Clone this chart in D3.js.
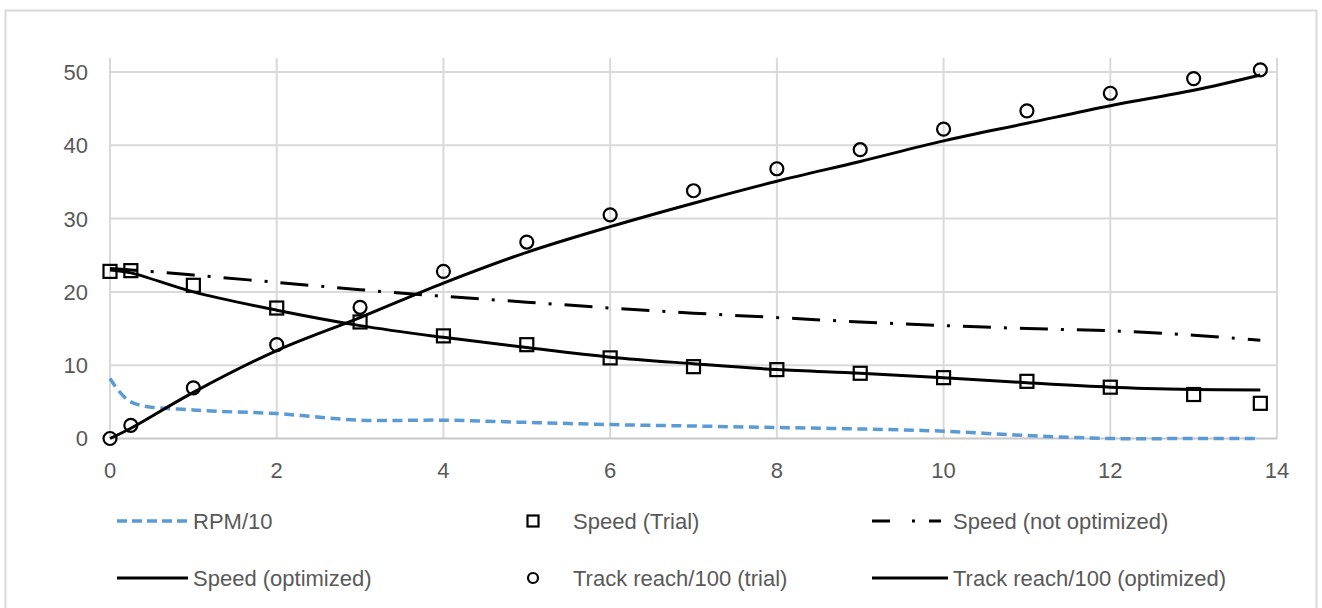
<!DOCTYPE html>
<html>
<head>
<meta charset="utf-8">
<script src="https://cdn.jsdelivr.net/npm/d3@7"></script>
<style>
  html, body { margin: 0; padding: 0; background: #ffffff; }
  svg { display: block; font-family: "Liberation Sans", Arial, sans-serif; }
</style>
</head>
<body>
<svg id="chart" width="1322" height="608"></svg>
<script>
// ---- Data ----
const xValues = [0, 0.25, 1, 2, 3, 4, 5, 6, 7, 8, 9, 10, 11, 12, 13, 13.8];
const rpm10 = [8.2, 5.0, 3.9, 3.4, 2.5, 2.5, 2.2, 1.9, 1.7, 1.5, 1.3, 1.0, 0.4, 0, 0, 0];
const speedTrial = [22.8, 22.9, 20.9, 17.8, 15.9, 14.0, 12.8, 11.0, 9.8, 9.4, 8.9, 8.3, 7.8, 7.0, 6.0, 4.8];
const speedNotOptimized = [23.2, 23.0, 22.3, 21.3, 20.3, 19.4, 18.6, 17.8, 17.1, 16.5, 15.9, 15.4, 15.0, 14.7, 14.1, 13.4];
const speedOptimized = [23.0, 22.6, 20.0, 17.5, 15.4, 13.8, 12.4, 11.1, 10.2, 9.4, 8.9, 8.3, 7.6, 7.0, 6.7, 6.6];
const trackTrial = [0, 1.8, 6.9, 12.8, 17.9, 22.8, 26.8, 30.5, 33.8, 36.8, 39.4, 42.2, 44.7, 47.1, 49.1, 50.3];
const trackOptimized = [0, 1.4, 6.3, 12.0, 16.5, 21.2, 25.4, 28.9, 32.1, 35.1, 37.8, 40.6, 43.0, 45.4, 47.5, 49.6];
const xTicks = [0, 2, 4, 6, 8, 10, 12, 14];
const yTicks = [0, 10, 20, 30, 40, 50];
const legendLabels = ["RPM/10", "Speed (Trial)", "Speed (not optimized)",
                      "Speed (optimized)", "Track reach/100 (trial)", "Track reach/100 (optimized)"];

// ---- Setup ----
const svg = d3.select("#chart");
const x = d3.scaleLinear().domain([0, 14]).range([110, 1277]);
const y = d3.scaleLinear().domain([0, 50]).range([438.5, 72]);
const textColor = "#595959";
const gridColor = "#d9d9d9";

// outer chart border
svg.append("rect")
  .attr("x", 5.5).attr("y", 10.5).attr("width", 1311).attr("height", 620)
  .attr("fill", "none").attr("stroke", "#d9d9d9").attr("stroke-width", 2);

// horizontal gridlines
svg.append("g").selectAll("line").data(yTicks.filter(d => d > 0)).join("line")
  .attr("x1", x(0)).attr("x2", x(14))
  .attr("y1", d => y(d)).attr("y2", d => y(d))
  .attr("stroke", gridColor).attr("stroke-width", 2);

// vertical gridlines (extend above top gridline like the reference)
const plotTop = y(50) - 14;
svg.append("g").selectAll("line").data(xTicks).join("line")
  .attr("x1", d => x(d)).attr("x2", d => x(d))
  .attr("y1", plotTop).attr("y2", y(0))
  .attr("stroke", gridColor).attr("stroke-width", 2);

// x axis line
svg.append("line")
  .attr("x1", x(0)).attr("x2", x(14)).attr("y1", y(0)).attr("y2", y(0))
  .attr("stroke", "#c8c8c8").attr("stroke-width", 2);

// y labels
svg.append("g").selectAll("text").data(yTicks).join("text")
  .attr("x", 88).attr("y", d => y(d))
  .attr("dy", "0.36em")
  .attr("text-anchor", "end")
  .attr("font-size", 22).attr("fill", textColor)
  .text(d => d);

// x labels
svg.append("g").selectAll("text").data(xTicks).join("text")
  .attr("x", d => x(d)).attr("y", 478)
  .attr("text-anchor", "middle")
  .attr("font-size", 22).attr("fill", textColor)
  .text(d => d);

// ---- Series ----
const pts = vals => xValues.map((xv, i) => [xv, vals[i]]);
const line = d3.line().x(d => x(d[0])).y(d => y(d[1])).curve(d3.curveCatmullRom.alpha(0.5));

const plot = svg.append("g");

plot.append("path").datum(pts(rpm10))
  .attr("d", line).attr("fill", "none")
  .attr("stroke", "#5b9bd5").attr("stroke-width", 3.5)
  .attr("stroke-dasharray", "10,5.5");

plot.append("path").datum(pts(speedNotOptimized))
  .attr("d", line).attr("fill", "none")
  .attr("stroke", "#000").attr("stroke-width", 3)
  .attr("stroke-dasharray", "28,13,3,13");

plot.append("path").datum(pts(speedOptimized))
  .attr("d", line).attr("fill", "none")
  .attr("stroke", "#000").attr("stroke-width", 3);

plot.append("path").datum(pts(trackOptimized))
  .attr("d", line).attr("fill", "none")
  .attr("stroke", "#000").attr("stroke-width", 3);

// square markers
const sq = 13;
plot.append("g").selectAll("rect").data(pts(speedTrial)).join("rect")
  .attr("x", d => x(d[0]) - sq / 2).attr("y", d => y(d[1]) - sq / 2)
  .attr("width", sq).attr("height", sq)
  .attr("fill", "none").attr("stroke", "#000").attr("stroke-width", 2.2);

// circle markers
plot.append("g").selectAll("circle").data(pts(trackTrial)).join("circle")
  .attr("cx", d => x(d[0])).attr("cy", d => y(d[1])).attr("r", 6.5)
  .attr("fill", "none").attr("stroke", "#000").attr("stroke-width", 2.2);

// ---- Legend ----
const rowY = [521, 578];
const colLine = [[117, 188], [533, 533], [872, 948]];
const colText = [193, 573, 953];
const legendItems = [
  {label: legendLabels[0], row: 0, col: 0, type: "line", stroke: "#5b9bd5", dash: "10,5", width: 3.5},
  {label: legendLabels[1], row: 0, col: 1, type: "square"},
  {label: legendLabels[2], row: 0, col: 2, type: "line", stroke: "#000", dash: "18,22,3,14,12", width: 3},
  {label: legendLabels[3], row: 1, col: 0, type: "line", stroke: "#000", dash: null, width: 3},
  {label: legendLabels[4], row: 1, col: 1, type: "circle"},
  {label: legendLabels[5], row: 1, col: 2, type: "line", stroke: "#000", dash: null, width: 3}
];
const lg = svg.append("g");
legendItems.forEach(it => {
  const cy = rowY[it.row];
  if (it.type === "line") {
    lg.append("line")
      .attr("x1", colLine[it.col][0]).attr("x2", colLine[it.col][1])
      .attr("y1", cy).attr("y2", cy)
      .attr("stroke", it.stroke).attr("stroke-width", it.width)
      .attr("stroke-dasharray", it.dash);
  } else if (it.type === "square") {
    lg.append("rect")
      .attr("x", colLine[it.col][0] - 5.5).attr("y", cy - 5.5)
      .attr("width", 11).attr("height", 11)
      .attr("fill", "none").attr("stroke", "#000").attr("stroke-width", 2.2);
  } else {
    lg.append("circle")
      .attr("cx", colLine[it.col][0]).attr("cy", cy).attr("r", 5)
      .attr("fill", "none").attr("stroke", "#000").attr("stroke-width", 2.2);
  }
  lg.append("text")
    .attr("x", colText[it.col]).attr("y", cy).attr("dy", "0.36em")
    .attr("font-size", 22).attr("fill", textColor)
    .text(it.label);
});
</script>
</body>
</html>
